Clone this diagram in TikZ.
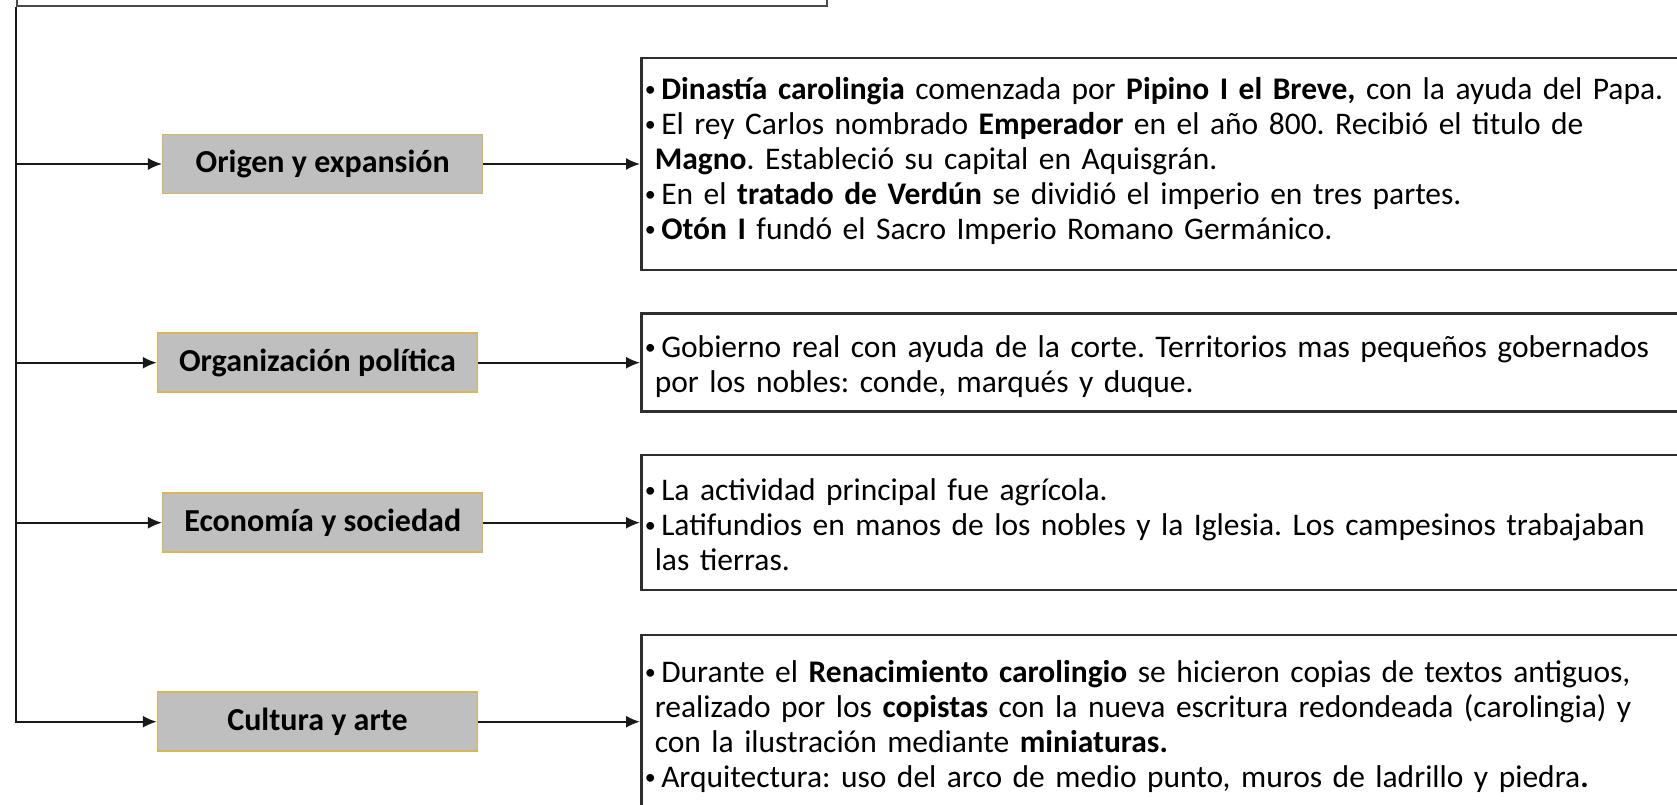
\documentclass[tikz,border=0pt]{standalone}
\usepackage{fontspec}
\setmainfont{Carlito}
\usetikzlibrary{arrows.meta}
\frenchspacing
\definecolor{catfill}{HTML}{BFBFBF}
\definecolor{catdraw}{HTML}{D6B656}
\definecolor{framecol}{HTML}{2E2E2E}
\definecolor{trunkcol}{HTML}{4A4A4A}
\newcommand\bul{\par\noindent\hangindent=8.5pt\hangafter=1\makebox[15pt][l]{\hspace{-1.5pt}\raisebox{3pt}{\fontsize{22}{22}\selectfont\textbullet}}}
\begin{document}
\begin{tikzpicture}[x=1pt,y=-1pt,
 cat/.style={draw=catdraw, line width=1.5pt, fill=catfill, minimum width=320pt, minimum height=59pt, inner sep=0pt, font=\fontsize{32}{36}\selectfont\bfseries},
 info/.style={draw=framecol, line width=2.5pt, anchor=west, text width=1090pt, align=left, inner xsep=5pt, inner ysep=0pt, font=\fontsize{31.5}{35}\selectfont\frenchspacing},
 conn/.style={draw=black!90, line width=1.7pt, -{Latex[length=14pt,width=12pt]}},
]
\path[use as bounding box, clip] (0,0) rectangle (1677,805);
\node[draw=trunkcol, line width=1.8pt, anchor=south west, minimum width=810pt, minimum height=120pt, inner sep=0pt] (title) at (16,7) {};

\node[cat] (c1) at (322.7,164) {Origen y expansión};
\node[cat] (c2) at (317.5,362.7) {Organización política};
\node[cat] (c3) at (322.7,522.7) {Economía y sociedad};
\node[cat] (c4) at (317.5,721.7) {Cultura y arte};

\node[info, minimum height=212pt] (t1) at (640,164) {%
\bul\textbf{Dinastía carolingia} comenzada por \textbf{Pipino I el Breve,} con la ayuda del Papa.
\bul El rey Carlos nombrado \textbf{Emperador} en el año 800. Recibió el titulo de\newline\textbf{Magno}. Estableció su capital en Aquisgrán.
\bul En el \textbf{tratado de Verdún} se dividió el imperio en tres partes.
\bul\textbf{Otón I} fundó el Sacro Imperio Romano Germánico.\par\kern19pt};

\node[info, minimum height=98pt] (t2) at (640,362.7) {%
\bul Gobierno real con ayuda de la corte. Territorios mas pequeños gobernados\newline por los nobles: conde, marqués y duque.\par\kern5pt};

\node[info, minimum height=135pt] (t3) at (640,522.7) {%
\bul La actividad principal fue agrícola.
\bul Latifundios en manos de los nobles y la Iglesia. Los campesinos trabajaban\newline las tierras.\par\kern10pt};

\node[info, minimum height=173pt] (t4) at (640,721.7) {%
\bul Durante el \textbf{Renacimiento carolingio} se hicieron copias de textos antiguos,\newline realizado por los \textbf{copistas} con la nueva escritura redondeada (carolingia) y\newline con la ilustración mediante \textbf{miniaturas.}
\bul Arquitectura: uso del arco de medio punto, muros de ladrillo y piedra\textbf{.}\par\kern3pt};

\draw[conn] (title.south west) |- (c4.west);
\draw[conn] (title.south west |- c1.west) -- (c1.west);
\draw[conn] (title.south west |- c2.west) -- (c2.west);
\draw[conn] (title.south west |- c3.west) -- (c3.west);

\draw[conn] (c1.east) -- (t1.west);
\draw[conn] (c2.east) -- (t2.west);
\draw[conn] (c3.east) -- (t3.west);
\draw[conn] (c4.east) -- (t4.west);
\end{tikzpicture}
\end{document}
